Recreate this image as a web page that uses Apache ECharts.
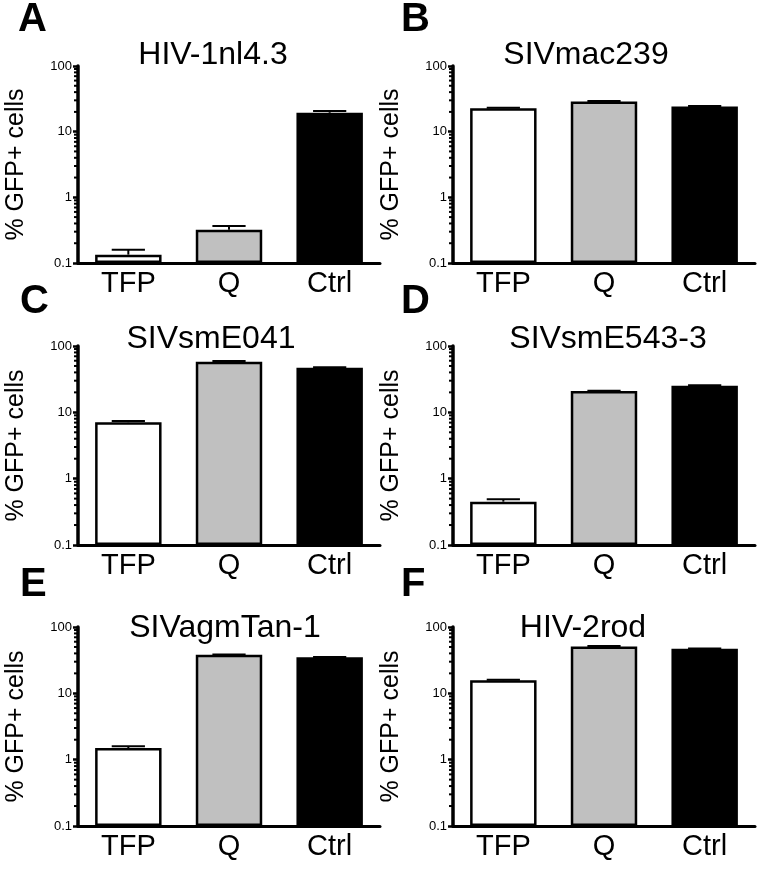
<!DOCTYPE html>
<html><head><meta charset="utf-8">
<script src="https://cdn.jsdelivr.net/npm/echarts@6/dist/echarts.min.js"></script>
<style>html,body{margin:0;padding:0;background:#fff}#c{width:762px;height:873px}</style>
</head><body><div id="c"></div>
<script>
// ---------- data ----------
const categories = ['TFP', 'Q', 'Ctrl'];
const panelLetters = ['A', 'B', 'C', 'D', 'E', 'F'];
const panelTitles = ['HIV-1nl4.3', 'SIVmac239', 'SIVsmE041', 'SIVsmE543-3', 'SIVagmTan-1', 'HIV-2rod'];
const yAxisName = '% GFP+ cells';
const yTickLabels = ['0.1', '1', '10', '100'];
const minorTickValues = [0.2,0.3,0.4,0.5,0.6,0.7,0.8,0.9,2,3,4,5,6,7,8,9,20,30,40,50,60,70,80,90];

const valuesA = [0.134, 0.32, 19.4];  const errA = [0.025, 0.045, 1.2];
const valuesB = [22.8, 28.8, 24.2];   const errB = [0.3, 0.6, 0.3];
const valuesC = [7.1, 58, 47];        const errC = [0.3, 1.5, 0.8];
const valuesD = [0.45, 20.9, 25.1];   const errD = [0.04, 0.3, 0.4];
const valuesE = [1.5, 38, 35];        const errE = [0.1, 0.4, 0.4];
const valuesF = [15.7, 51, 47];       const errF = [0.3, 0.5, 0.4];

const allValues = [valuesA, valuesB, valuesC, valuesD, valuesE, valuesF];
const allErrors = [errA, errB, errC, errD, errE, errF];

// ---------- layout / style ----------
const FONT = 'Liberation Sans, Arial, sans-serif';
const barColors = ['#ffffff', '#c0c0c0', '#000000'];
const colLeft = [78, 453];
const gridWidth = 302;
const rowTop = [66, 346, 627];
const rowHeight = [197, 199, 199];
const titleCenterX = [213, 586, 211, 608, 225, 583];
const titleTop = [39, 39, 323, 323, 612, 612];
const letterLeft = [18, 401, 20, 401, 20, 401];
const letterTop = [0, 0, 282, 282, 565, 565];

const grids = [], xAxes = [], yAxes = [], series = [], titles = [];

for (let i = 0; i < 6; i++) {
  const col = i % 2, row = Math.floor(i / 2);
  grids.push({ left: colLeft[col], top: rowTop[row], width: gridWidth, height: rowHeight[row], containLabel: false });

  titles.push({
    text: panelTitles[i], left: titleCenterX[i], top: titleTop[i], textAlign: 'center', padding: 0,
    textStyle: { fontFamily: FONT, fontSize: 32, lineHeight: 32, fontWeight: 'normal', color: '#000' }
  });
  titles.push({
    text: panelLetters[i], left: letterLeft[i], top: letterTop[i], padding: 0,
    textStyle: { fontFamily: FONT, fontSize: 40, lineHeight: 40, fontWeight: 'bold', color: '#000' }
  });

  xAxes.push({
    type: 'category', gridIndex: i, data: categories,
    axisLine: { lineStyle: { color: '#000', width: 3 } },
    axisTick: { alignWithLabel: true, length: 6, lineStyle: { color: '#000', width: 3 } },
    axisLabel: { color: '#000', fontFamily: FONT, fontSize: 29, margin: 6 },
    splitLine: { show: false }
  });

  yAxes.push({
    type: 'log', logBase: 10, gridIndex: i, min: 0.1, max: 100, interval: 1, startValue: 0.1,
    name: yAxisName, nameLocation: 'middle', nameRotate: 90, nameGap: 49,
    nameTextStyle: { color: '#000', fontFamily: FONT, fontSize: 25 },
    axisLine: { show: true, lineStyle: { color: '#000', width: 3.5 } },
    axisTick: { show: true, length: 5, lineStyle: { color: '#000', width: 2.5 } },
    axisLabel: {
      color: '#000', fontFamily: FONT, fontSize: 13, margin: 6,
      formatter: function (v) {
        const k = Math.round(Math.log10(v)) + 1;
        return yTickLabels[k] !== undefined ? yTickLabels[k] : '';
      }
    },
    splitLine: { show: false }
  });

  series.push({
    type: 'bar', xAxisIndex: i, yAxisIndex: i, barWidth: '66%',
    data: allValues[i].map((v, j) => ({ value: v, itemStyle: { color: barColors[j], borderColor: '#000', borderWidth: 2.5 } })),
    z: 2
  });

  series.push({
    type: 'custom', xAxisIndex: i, yAxisIndex: i, z: 3,
    data: allValues[i].map((v, j) => [j, v, allErrors[i][j]]),
    renderItem: function (params, api) {
      const idx = api.value(0), v = api.value(1), e = api.value(2);
      const base = api.coord([idx, v]);
      const top = api.coord([idx, v + e]);
      const half = api.size([1, 0])[0] * 0.33 * 0.5;
      return {
        type: 'group',
        children: [
          { type: 'line', shape: { x1: base[0], y1: base[1], x2: top[0], y2: top[1] }, style: { stroke: '#000', lineWidth: 2 } },
          { type: 'line', shape: { x1: top[0] - half, y1: top[1], x2: top[0] + half, y2: top[1] }, style: { stroke: '#000', lineWidth: 2 } }
        ]
      };
    }
  });

  series.push({
    type: 'custom', xAxisIndex: i, yAxisIndex: i, z: 3, silent: true,
    data: minorTickValues.map(v => [0, v]),
    renderItem: function (params, api) {
      const p = api.coord([0, api.value(1)]);
      const x = params.coordSys.x;
      return { type: 'line', shape: { x1: x - 4, y1: p[1], x2: x, y2: p[1] }, style: { stroke: '#000', lineWidth: 2 } };
    }
  });
}

const chart = echarts.init(document.getElementById('c'), null, { renderer: 'canvas' });
chart.setOption({
  animation: false,
  backgroundColor: '#fff',
  title: titles,
  grid: grids,
  xAxis: xAxes,
  yAxis: yAxes,
  series: series
});
</script>
</body></html>
